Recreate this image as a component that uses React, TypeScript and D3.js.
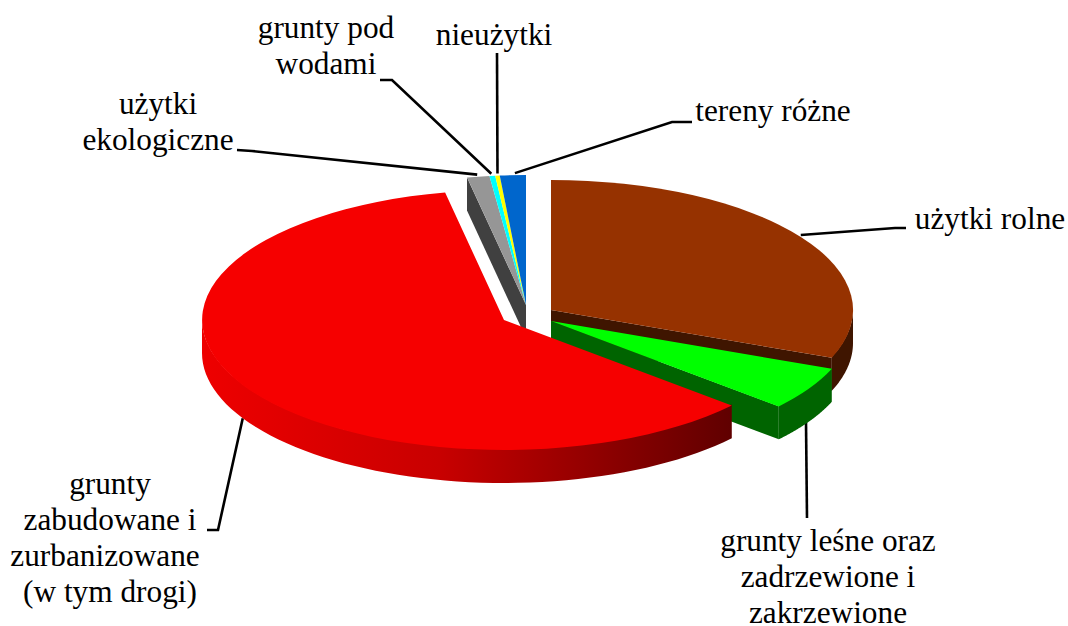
import React from "react";
import * as d3 from "d3";

const categories = ["użytki rolne", "grunty leśne oraz zadrzewione i zakrzewione", "grunty zabudowane i zurbanizowane (w tym drogi)", "użytki ekologiczne", "grunty pod wodami", "nieużytki", "tereny różne"];
const shares = [31, 5.4, 60.47, 1.2, 0.3, 0.25, 1.38];
const topColors = ["#963200", "#00ff00", "#f60000", "#969696", "#00ffff", "#ffff00", "#0066cc"];
const sideColors = ["#3f1500", "#006400", "url(#redSide)", "#404040", "#006464", "#646400", "#002a60"];

const labelLines = [
  ["użytki rolne"],
  ["grunty leśne oraz", "zadrzewione i", "zakrzewione"],
  ["grunty", "zabudowane i", "zurbanizowane", "(w tym drogi)"],
  ["użytki", "ekologiczne"],
  ["grunty pod", "wodami"],
  ["nieużytki"],
  ["tereny różne"],
];

const W = 1068, H = 626, RX = 302, RY = 130, DEPTH = 33;
const centers: [number, number][] = [[551, 310], [551, 321], [504, 320], [526, 305], [526, 305], [526, 305], [526, 305]];
const labelPos: [number, number][] = [[990, 229], [828, 551], [110, 494], [158, 114], [326, 38], [494, 45], [773, 121]];
const lineShift: Record<string, number> = { zurbanizowane: -5 };
const leaderVia: [number, number][][] = [
  [[895, 228], [906, 228]],
  [[807, 518]],
  [[218, 530], [207, 530]],
  [[252, 151], [237, 150]],
  [[392, 80], [380, 80]],
  [[497, 53]],
  [[672, 122], [692, 122]],
];
const anchorNudge = [0, -3, 0, -1, -1, 0, 2];

const FONT = "'Liberation Serif', 'Times New Roman', serif";

export default function App() {
  const arcs = d3.pie<number>().sort(null).value((d) => d)(shares);
  const unit = d3.arc<any>().innerRadius(0).outerRadius(1);
  const line = d3.line();
  const pt = (i: number, a: number, dz = 0): [number, number] => [
    centers[i][0] + RX * Math.sin(a),
    centers[i][1] - RY * Math.cos(a) + dz,
  ];

  // Only the part of the rim between 90° and 270° faces the viewer.
  const sidePath = (i: number) => {
    const { startAngle, endAngle } = arcs[i];
    const from = Math.max(startAngle, Math.PI / 2);
    const to = Math.min(endAngle, (3 * Math.PI) / 2);
    if (from >= to) return null;
    const steps = d3.range(0, 61).map((k) => from + ((to - from) * k) / 60);
    const topEdge = steps.map((a) => pt(i, a, -1));
    const bottomEdge = steps.slice().reverse().map((a) => pt(i, a, DEPTH));
    return line([...topEdge, ...bottomEdge]) + "Z";
  };

  const cutPath = (i: number, a: number) =>
    line([centers[i], pt(i, a), pt(i, a, DEPTH), [centers[i][0], centers[i][1] + DEPTH]]) + "Z";

  const slice = (i: number) => {
    const { startAngle, endAngle } = arcs[i];
    const prevSame = i > 0 && centers[i - 1][0] === centers[i][0] && centers[i - 1][1] === centers[i][1];
    const showStart = Math.sin(startAngle) < -1e-6 && !prevSame;
    const showEnd = Math.sin(endAngle) > 1e-6;
    const side = sidePath(i);
    return (
      <g key={categories[i]}>
        {showStart && <path d={cutPath(i, startAngle)} fill={sideColors[i]} />}
        {showEnd && <path d={cutPath(i, endAngle)} fill={i === 2 ? "#600000" : sideColors[i]} />}
        {side && <path d={side} fill={sideColors[i]} />}
        <path
          d={unit(arcs[i]) as string}
          transform={`translate(${centers[i][0]},${centers[i][1]}) scale(${RX},${RY})`}
          fill={topColors[i]}
        />
      </g>
    );
  };

  const leaders = arcs.map((d, i) => {
    const mid = (d.startAngle + d.endAngle) / 2;
    const onFront = Math.cos(mid) < 0;
    const p = pt(i, mid, onFront ? DEPTH : 0);
    const start: [number, number] = [p[0] + anchorNudge[i], p[1] - (onFront ? 0 : 2)];
    return <path key={i} d={line([start, ...leaderVia[i]]) as string} fill="none" stroke="#000" strokeWidth={2.6} />;
  });

  return (
    <svg width={W} height={H} viewBox={`0 0 ${W} ${H}`} style={{ position: "fixed", left: 0, top: 0, background: "#fff" }}>
      <defs>
        <linearGradient id="redSide" gradientUnits="userSpaceOnUse" x1={202} x2={731} y1={0} y2={0}>
          <stop offset="0" stopColor="#ee0000" />
          <stop offset="0.45" stopColor="#c80000" />
          <stop offset="1" stopColor="#600000" />
        </linearGradient>
      </defs>
      {leaders}
      {[0, 1, 3, 4, 5, 6, 2].map(slice)}
      <g fontFamily={FONT} fontSize={31.3} fill="#000" textAnchor="middle">
        {labelLines.map((lines, i) =>
          lines.map((t, k) => (
            <text key={t} x={labelPos[i][0] + (lineShift[t] ?? 0)} y={labelPos[i][1] + k * 36}>
              {t}
            </text>
          ))
        )}
      </g>
    </svg>
  );
}
